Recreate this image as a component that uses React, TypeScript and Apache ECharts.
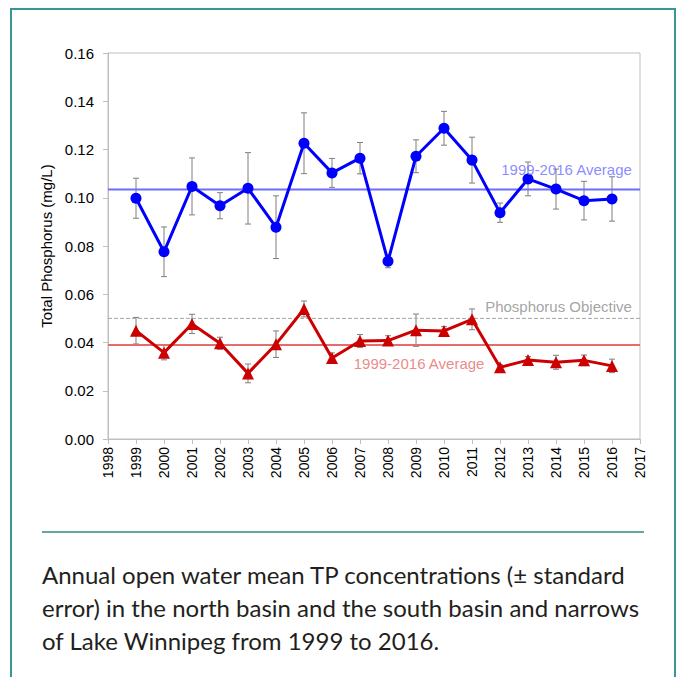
import React, { useEffect, useRef } from "react";
import * as echarts from "echarts";

const years = [1999, 2000, 2001, 2002, 2003, 2004, 2005, 2006, 2007, 2008, 2009, 2010, 2011, 2012, 2013, 2014, 2015, 2016];
const northMean = [0.0998, 0.0776, 0.1047, 0.0967, 0.1039, 0.0878, 0.1226, 0.1103, 0.1164, 0.0737, 0.1172, 0.1288, 0.1156, 0.0938, 0.1078, 0.1036, 0.0988, 0.0995];
const northSE = [0.0083, 0.0103, 0.0118, 0.0054, 0.0148, 0.013, 0.0126, 0.006, 0.0065, 0.0027, 0.0068, 0.007, 0.0095, 0.004, 0.007, 0.0083, 0.008, 0.0092];
const southMean = [0.0449, 0.0358, 0.0477, 0.0397, 0.0272, 0.0393, 0.0539, 0.0336, 0.0406, 0.0408, 0.0451, 0.0448, 0.0496, 0.0297, 0.0327, 0.0318, 0.0326, 0.0303];
const southSE = [0.0055, 0.003, 0.004, 0.0025, 0.0039, 0.0055, 0.0033, 0.0021, 0.0027, 0.002, 0.0067, 0.0018, 0.0043, 0.0011, 0.0015, 0.0029, 0.0022, 0.0028];
const northAverage = 0.1034;
const southAverage = 0.039;
const phosphorusObjective = 0.05;
const xMin = 1998;
const xMax = 2017;
const yTicks = [0, 0.02, 0.04, 0.06, 0.08, 0.1, 0.12, 0.14, 0.16];
const averageLabel = "1999-2016 Average";
const objectiveLabel = "Phosphorus Objective";
const yAxisTitle = "Total Phosphorus (mg/L)";
const captionLines = [
  "Annual open water mean TP concentrations (± standard",
  "error) in the north basin and the south basin and narrows",
  "of Lake Winnipeg from 1999 to 2016.",
];

const FONT = "'Liberation Sans', Arial, sans-serif";
const TEAL = "#3a9696";

function errorSeries(mean: number[], se: number[]) {
  return {
    type: "custom",
    z: 1,
    silent: true,
    renderItem: (params: any, api: any) => {
      const x = api.value(0);
      const lo = api.value(1);
      const hi = api.value(2);
      const pHi = api.coord([x, hi]);
      const pLo = api.coord([x, lo]);
      const style = { stroke: "#7f7f7f", lineWidth: 1 };
      const w = 3;
      return {
        type: "group",
        children: [
          { type: "line", shape: { x1: pHi[0], y1: pHi[1], x2: pLo[0], y2: pLo[1] }, style },
          { type: "line", shape: { x1: pHi[0] - w, y1: pHi[1], x2: pHi[0] + w, y2: pHi[1] }, style },
          { type: "line", shape: { x1: pLo[0] - w, y1: pLo[1], x2: pLo[0] + w, y2: pLo[1] }, style },
        ],
      };
    },
    encode: { x: 0, y: [1, 2] },
    data: years.map((y, i) => [y, mean[i] - se[i], mean[i] + se[i]]),
  };
}

function hLine(value: number, color: string, width: number, type: string = "solid") {
  return {
    type: "line",
    silent: true,
    symbol: "none",
    z: 2,
    lineStyle: { color, width, type },
    data: [
      [xMin, value],
      [xMax, value],
    ],
  };
}

function textLabel(x: number, y: number, text: string, color: string, position: string) {
  return {
    type: "scatter",
    silent: true,
    symbolSize: 0,
    z: 5,
    label: {
      show: true,
      position,
      distance: 0,
      formatter: text,
      color,
      fontFamily: FONT,
      fontSize: 15,
    },
    data: [[x, y]],
  };
}

export default function App() {
  const ref = useRef<HTMLDivElement>(null);
  useEffect(() => {
    if (!ref.current) return;
    const chart = echarts.init(ref.current, null, { renderer: "svg" });
    const option: any = {
      animation: false,
      backgroundColor: "#ffffff",
      grid: {
        left: 108,
        top: 53,
        width: 532,
        height: 386,
        show: true,
        borderColor: "#bfbfbf",
        borderWidth: 1,
        backgroundColor: "transparent",
      },
      xAxis: {
        type: "value",
        min: xMin,
        max: xMax,
        interval: 1,
        axisLine: { show: true, lineStyle: { color: "#bfbfbf", width: 1 } },
        axisTick: { show: true, length: 5, lineStyle: { color: "#bfbfbf" } },
        splitLine: { show: false },
        axisLabel: {
          rotate: 90,
          margin: 8,
          color: "#000",
          fontFamily: FONT,
          fontSize: 14,
          formatter: (v: number) => String(v),
        },
      },
      yAxis: {
        type: "value",
        min: yTicks[0],
        max: yTicks[yTicks.length - 1],
        interval: 0.02,
        name: yAxisTitle,
        nameLocation: "middle",
        nameRotate: 90,
        nameGap: 49,
        nameTextStyle: { color: "#000", fontFamily: FONT, fontSize: 15 },
        axisLine: { show: true, lineStyle: { color: "#bfbfbf", width: 1 } },
        axisTick: { show: true, length: 5, lineStyle: { color: "#bfbfbf" } },
        splitLine: { show: false },
        axisLabel: {
          margin: 14,
          color: "#000",
          fontFamily: FONT,
          fontSize: 15,
          formatter: (v: number) => v.toFixed(2),
        },
      },
      series: [
        hLine(phosphorusObjective, "#a6a6a6", 1, "dashed"),
        hLine(northAverage, "#6d6dff", 2),
        hLine(southAverage, "#e66b6b", 2),
        errorSeries(northMean, northSE),
        errorSeries(southMean, southSE),
        {
          type: "line",
          z: 3,
          symbol: "circle",
          symbolSize: 11,
          itemStyle: { color: "#0000ff" },
          lineStyle: { color: "#0000ff", width: 3 },
          data: years.map((y, i) => [y, northMean[i]]),
        },
        {
          type: "line",
          z: 3,
          symbol: "triangle",
          symbolSize: 12,
          itemStyle: { color: "#cc0000" },
          lineStyle: { color: "#cc0000", width: 3 },
          data: years.map((y, i) => [y, southMean[i]]),
        },
        textLabel(2016.71, 0.1119, averageLabel, "#6d6dff", "left"),
        textLabel(2009.11, 0.0315, averageLabel, "#e66b6b", "inside"),
        textLabel(2016.71, 0.0551, objectiveLabel, "#8c8c8c", "left"),
      ],
      graphic: [
        {
          type: "polyline",
          silent: true,
          shape: { points: [[11, 677], [11, 9], [675, 9], [675, 677]] },
          style: { stroke: TEAL, lineWidth: 2, fill: "none" },
        },
        {
          type: "line",
          silent: true,
          shape: { x1: 42, y1: 532, x2: 644, y2: 532 },
          style: { stroke: "#2b8a8a", lineWidth: 1.5 },
        },
        ...captionLines.map((t, i) => ({
          type: "text",
          silent: true,
          x: 42,
          y: 574 + i * 33,
          style: {
            text: t,
            fill: "#231f20",
            font: "24px Lato, 'Noto Sans', sans-serif",
            textVerticalAlign: "middle",
            textAlign: "left",
          },
        })),
      ],
    };
    chart.setOption(option);
    return () => chart.dispose();
  }, []);
  return (
    <div
      ref={ref}
      style={{ position: "absolute", left: 0, top: 0, width: 678, height: 677 }}
    />
  );
}
